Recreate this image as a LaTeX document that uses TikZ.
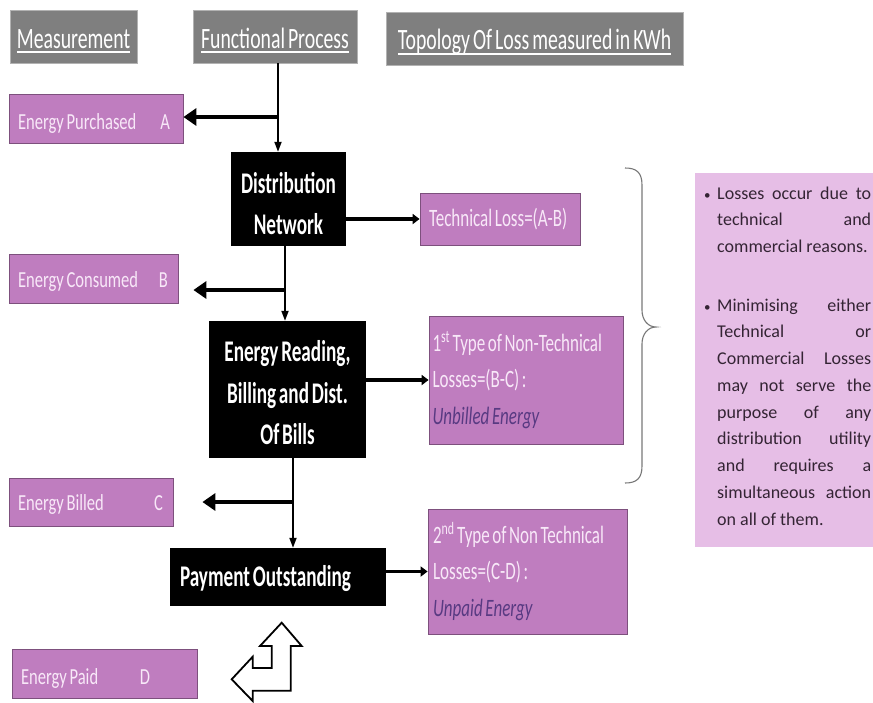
\documentclass[tikz,border=0pt]{standalone}
\usepackage{fontspec}
\setmainfont{Carlito}
\newfontfamily\cfh[FakeStretch=0.67,WordSpace=0.67]{Carlito}
\newfontfamily\cfm[FakeStretch=0.72,WordSpace=0.72]{Carlito}
\newfontfamily\cfb[FakeStretch=0.64,WordSpace=0.64]{Carlito}
\newfontfamily\cfl[FakeStretch=0.68,WordSpace=0.68]{Carlito}
\newsavebox{\hulbox}
\newcommand{\hul}[1]{\sbox{\hulbox}{#1}\rlap{\usebox{\hulbox}}\rule[-5pt]{\wd\hulbox}{1.6pt}}
\newcommand{\up}[1]{\rule{0pt}{#1}}
\newcommand{\ns}{\spaceskip=0pt\xspaceskip=0pt\hyphenpenalty=10000\exhyphenpenalty=10000\relax}
\usetikzlibrary{arrows.meta}
\definecolor{hdrgray}{RGB}{127,127,127}
\definecolor{purp}{RGB}{191,125,191}
\definecolor{purpline}{RGB}{125,80,125}
\definecolor{purptext}{RGB}{248,232,248}
\definecolor{ital}{RGB}{88,58,130}
\definecolor{rbox}{RGB}{230,190,230}
\definecolor{rtext}{RGB}{52,36,52}
\definecolor{bracecol}{RGB}{120,120,120}
\begin{document}
\begin{tikzpicture}[x=1pt,y=-1pt,
  hdr/.style={fill=hdrgray, draw=hdrgray!60!white, line width=0.6pt, text=white, inner sep=0pt, font=\cfh\fontsize{29.5}{32}\selectfont},
  meas/.style={fill=purp, draw=purpline, line width=0.8pt, text=purptext, inner xsep=9pt, inner ysep=0pt, align=left, font=\cfm\fontsize{23}{30}\selectfont},
  proc/.style={fill=black, text=white, inner sep=0pt, align=center, font=\cfb\bfseries\fontsize{30}{41.5}\selectfont},
  loss/.style={fill=purp, draw=purpline, line width=0.8pt, text=purptext, inner ysep=0pt, align=left, font=\cfl\fontsize{25}{36.5}\selectfont},
  varrow/.style={draw=black, line width=1.8pt, -{Triangle[length=10pt,width=7pt]}},
  larrow/.style={draw=black, line width=3.5pt, -{Triangle[length=13pt,width=17pt]}},
  rarrow/.style={draw=black, line width=3.5pt, -{Triangle[length=7pt,width=10pt]}},
  rtxt/.style={text=rtext, inner sep=0pt, anchor=base west, font=\fontsize{18}{26.75}\selectfont}
]
\useasboundingbox (0,0) rectangle (873,702);
\fill[white] (0,0) rectangle (873,702);

% headers
\node[hdr, minimum width=127, minimum height=53] (h1) at (73.5,36.5) {\up{28pt}\hul{Measurement}};
\node[hdr, minimum width=164, minimum height=53] (h2) at (275,36.5) {\up{28pt}\hul{Functional Process}};
\node[hdr, minimum width=297, minimum height=53] (h3) at (534.5,38.5) {\up{28pt}\hul{Topology Of Loss measured in KWh}};

% measurement boxes
\node[meas, text width=156, minimum height=49] (ep) at (96,118.5) {\ns\up{26pt}\makebox[152pt][l]{Energy Purchased\hfill A}};
\node[meas, text width=151, minimum height=49] (ec) at (93.5,278.5) {\ns\up{22pt}\makebox[150pt][l]{Energy Consumed\hfill B}};
\node[meas, text width=146, minimum height=48] (eb) at (91,502) {\ns\up{21pt}\makebox[145pt][l]{Energy Billed\hfill C}};
\node[meas, text width=167, minimum height=49] (pd) at (104.5,673.5) {\ns\up{26pt}\makebox[129pt][l]{Energy Paid\hfill D}};

% process boxes
\node[proc, minimum width=115, minimum height=94] (dn) at (288.5,199) {\up{30pt}Distribution\\Network};
\node[proc, minimum width=157, minimum height=137] (er) at (287.5,389.5) {\up{28pt}Energy Reading,\\Billing and Dist.\\Of Bills};
\node[proc, text width=196, inner xsep=10pt, align=left, minimum height=58] (po) at (278,577) {\ns\up{25pt}Payment Outstanding};

% loss boxes
\node[loss, text width=142, inner xsep=9pt, minimum height=52] (tl) at (500,219) {\ns Technical Loss=(A-B)};
\node[loss, text width=187, inner xsep=3.5pt, minimum height=128] (nt1) at (526,380)
  {\ns 1\textsuperscript{st} Type of Non-Technical\\Losses=(B-C) :\\{\itshape\color{ital}Unbilled Energy}};
\node[loss, text width=189, inner xsep=5pt, minimum height=125] (nt2) at (527.5,571.5)
  {\ns 2\textsuperscript{nd} Type of Non Technical\\Losses=(C-D) :\\{\itshape\color{ital}Unpaid Energy}};

% connectors
\coordinate (j1) at (278,117);
\coordinate (j2) at (285,290);
\coordinate (j3) at (293,502);
\draw[varrow] (h2.south -| j1) -- (dn.north -| j1);
\draw[larrow] (j1) -- (j1 -| ep.east);
\draw[varrow] (dn.south -| j2) -- (er.north -| j2);
\draw[larrow, shorten >=15pt] (j2) -- (j2 -| ec.east);
\draw[varrow] (er.south -| j3) -- (po.north -| j3);
\draw[larrow, shorten >=29pt] (j3) -- (j3 -| eb.east);
\draw[rarrow] (dn.east |- tl.west) -- (tl.west);
\draw[rarrow] (er.east |- nt1.west) -- (nt1.west);
\draw[rarrow] (po.east |- nt2.west) -- (nt2.west);

% bent double arrow
\draw[black, line width=1.8pt, line join=miter, fill=white]
  (281.7,622.7) -- (301.7,646) -- (290.7,646) -- (290.7,690.7) -- (252.7,690.7)
  -- (252.7,701) -- (231.7,679.3) -- (252.7,656.7) -- (252.7,668) -- (271.7,668)
  -- (271.7,646) -- (260,646) -- cycle;

% brace
\draw[bracecol, line width=1.1pt]
  (625,168) .. controls (636,168) and (642,172) .. (642,185) -- (642,310)
  .. controls (642,320) and (648,327) .. (656,327)
  .. controls (648,327) and (642,334) .. (642,344) -- (642,466)
  .. controls (642,479) and (636,483) .. (625,483);

% right text box
\node[fill=rbox, inner sep=0pt, minimum width=178, minimum height=374, anchor=north west] (rb) at (695,173) {};
\node[rtxt] (b1) at (704,199) {\fontsize{13}{13}\selectfont •};
\node[rtxt] (b2) at (704,311) {\fontsize{13}{13}\selectfont •};
\node[rtxt] (p1a) at (717,199) {\makebox[154pt][s]{Losses occur due to}};
\node[rtxt] (p1b) at (717,225.75) {\makebox[154pt][s]{technical and}};
\node[rtxt] (p1c) at (717,252.5) {commercial reasons.};
\foreach \t [count=\i from 0] in {Minimising either, Technical or, Commercial Losses, may not serve the, purpose of any, distribution utility, and requires a, simultaneous action}
  \node[rtxt] (p2-\i) at (717,{311+\i*26.75}) {\makebox[154pt][s]{\t}};
\node[rtxt] (p2-8) at (717,525) {on all of them.};
\end{tikzpicture}
\end{document}
